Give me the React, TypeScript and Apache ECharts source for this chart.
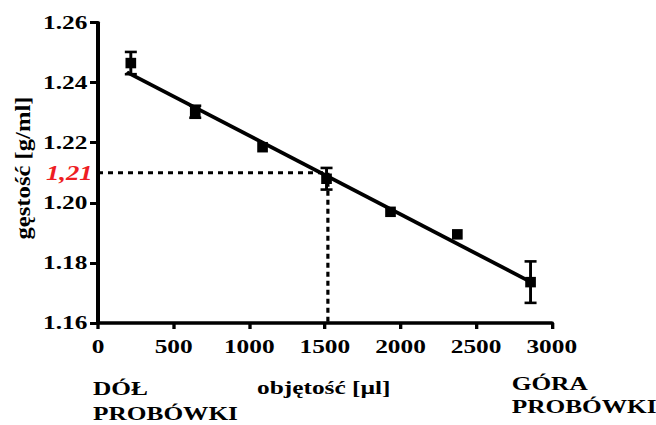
import React, { useEffect, useRef } from "react";
import * as echarts from "echarts";

// measured data (volume in µl, density in g/ml)
const volumes = [217, 643, 1088, 1511, 1934, 2376, 2860];
const density = [1.2465, 1.2303, 1.2185, 1.208, 1.197, 1.1895, 1.1736];
const errors = [0.0037, 0.002, 0, 0.0036, 0, 0, 0.0069];
// linear fit end points
const fitX = [190, 2860];
const fitY = [1.2435, 1.1737];
// reference reading
const refX = 1520;
const refY = 1.21;
const xTicks = { min: 0, max: 3000, interval: 500 };
const yTicks = { min: 1.16, max: 1.26, interval: 0.02 };

const FONT = "'Liberation Serif', 'Times New Roman', serif";
const SX = 656 / 492;

export default function App() {
  const ref = useRef<HTMLDivElement>(null);
  useEffect(() => {
    if (!ref.current) return;
    const chart = echarts.init(ref.current, undefined, { renderer: "svg" });
    const points = volumes.map((v, i) => [v, density[i]]);
    const errData = volumes.map((v, i) => [v, density[i], errors[i]]);
    chart.setOption({
      animation: false,
      backgroundColor: "#fff",
      grid: { left: 73.5, right: 78.2, top: 22.5, bottom: 102, containLabel: false },
      xAxis: {
        type: "value",
        min: xTicks.min,
        max: xTicks.max,
        interval: xTicks.interval,
        splitLine: { show: false },
        axisLine: { show: true, lineStyle: { color: "#000", width: 3.5 } },
        axisTick: { show: true, length: 6, lineStyle: { color: "#000", width: 2.5 } },
        axisLabel: {
          color: "#000",
          fontFamily: FONT,
          fontWeight: "bold",
          fontSize: 19,
          margin: 14,
          formatter: (v: number) => String(v),
        },
      },
      yAxis: {
        type: "value",
        min: yTicks.min,
        max: yTicks.max,
        interval: yTicks.interval,
        splitLine: { show: false },
        axisLine: { show: true, lineStyle: { color: "#000", width: 3 } },
        axisTick: { show: true, length: 6, lineStyle: { color: "#000", width: 3 } },
        axisLabel: {
          color: "#000",
          fontFamily: FONT,
          fontWeight: "bold",
          fontSize: 19,
          margin: 8,
          formatter: (v: number) => v.toFixed(2),
        },
      },
      series: [
        {
          type: "line",
          data: [[0, refY], [refX, refY]],
          symbol: "none",
          lineStyle: { color: "#000", width: 3, type: [3.75, 3.75] },
          z: 1,
        },
        {
          type: "line",
          data: [[refX, refY], [refX, yTicks.min]],
          symbol: "none",
          lineStyle: { color: "#000", width: 2.4, type: [5, 4] },
          z: 1,
        },
        {
          type: "line",
          data: fitX.map((x, i) => [x, fitY[i]]),
          symbol: "none",
          lineStyle: { color: "#000", width: 3.5 },
          z: 2,
        },
        {
          type: "custom",
          data: errData,
          z: 3,
          renderItem: (params: any, api: any) => {
            const x = api.value(0);
            const y = api.value(1);
            const e = api.value(2);
            if (!e) return { type: "group", children: [] };
            const top = api.coord([x, y + e]);
            const bot = api.coord([x, y - e]);
            const hw = 4.5;
            const st = { stroke: "#000", lineWidth: 2.2 };
            const cap = { stroke: "#000", lineWidth: 2.6 };
            return {
              type: "group",
              children: [
                { type: "line", shape: { x1: top[0], y1: top[1], x2: bot[0], y2: bot[1] }, style: st },
                { type: "line", shape: { x1: top[0] - hw, y1: top[1], x2: top[0] + hw, y2: top[1] }, style: cap },
                { type: "line", shape: { x1: bot[0] - hw, y1: bot[1], x2: bot[0] + hw, y2: bot[1] }, style: cap },
              ],
            };
          },
        },
        {
          type: "scatter",
          data: points,
          symbol: "rect",
          symbolSize: [8, 10.5],
          itemStyle: { color: "#000", opacity: 1 },
          z: 4,
        },
      ],
      graphic: [
        {
          type: "text",
          x: 69.4,
          y: 173,
          style: {
            text: "1,21",
            align: "right",
            verticalAlign: "middle",
            fill: "#ee1d23",
            font: `italic bold 20px ${FONT}`,
          },
        },
        {
          type: "text",
          x: 17.3,
          y: 168,
          rotation: Math.PI / 2,
          scaleX: 1.54,
          style: {
            text: "gęstość [g/ml]",
            align: "center",
            verticalAlign: "middle",
            fill: "#000",
            font: `bold 16px ${FONT}`,
          },
        },
        {
          type: "text",
          x: 69.8,
          y: 389,
          style: { text: "DÓŁ", align: "left", verticalAlign: "middle", fill: "#000", font: `bold 19px ${FONT}` },
        },
        {
          type: "text",
          x: 69.8,
          y: 413.5,
          style: { text: "PROBÓWKI", align: "left", verticalAlign: "middle", fill: "#000", font: `bold 19px ${FONT}` },
        },
        {
          type: "text",
          x: 192.8,
          y: 388,
          style: { text: "objętość [µl]", align: "left", verticalAlign: "middle", fill: "#000", font: `bold 19px ${FONT}` },
        },
        {
          type: "text",
          x: 383.8,
          y: 384,
          style: { text: "GÓRA", align: "left", verticalAlign: "middle", fill: "#000", font: `bold 19px ${FONT}` },
        },
        {
          type: "text",
          x: 383.8,
          y: 406.5,
          style: { text: "PROBÓWKI", align: "left", verticalAlign: "middle", fill: "#000", font: `bold 19px ${FONT}` },
        },
      ],
    });
    return () => chart.dispose();
  }, []);

  return (
    <div
      style={{
        position: "absolute",
        left: 0,
        top: 0,
        width: 656,
        height: 425,
        overflow: "hidden",
        background: "#fff",
      }}
    >
      <div
        ref={ref}
        style={{ width: 492, height: 425, transform: `scaleX(${SX})`, transformOrigin: "0 0" }}
      />
    </div>
  );
}
